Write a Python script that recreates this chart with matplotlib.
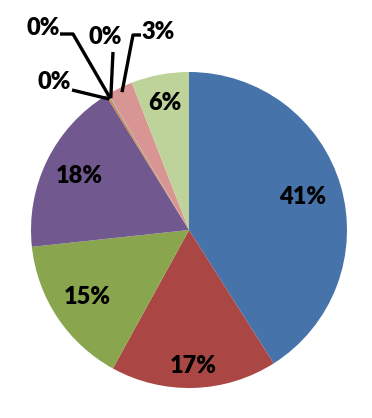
import numpy as np
import matplotlib
matplotlib.use("Agg")
import matplotlib.pyplot as plt

# slice shares in %, clockwise from 12 o'clock
shares = [41.0, 17.0, 15.3, 17.9, 0.2, 0.05, 0.05, 2.6, 5.9]
colors = ['#4673A9', '#AA4744', '#89A64E', '#71598F', '#DB843D',
          '#4198AF', '#93A9CF', '#D89593', '#BDD39A']
labels = [f"{round(v)}%" for v in shares]

# inside labels: radial distance of each label (None -> outside with leader)
inner_dist = [0.75, 0.86, 0.77, 0.77, None, None, None, None, 0.82]

# outside label positions in pixels (x, y from top-left) and leader elbow
outer_pos = {4: ((54, 82), None),
             5: ((43, 28), (73, 34)),
             6: ((105, 37), (113, 52)),
             7: ((158, 32), (133, 35))}
outer_start = {4: (72, 90), 5: (60, 34), 6: (113, 52), 7: (141, 35)}

W, H = 372, 418
CX, CY, R = 189, 230, 158


def px(p):
    return ((p[0] - CX) / R, (CY - p[1]) / R)


fig = plt.figure(figsize=(W / 100, H / 100), dpi=100)
ax = fig.add_axes([0, 0, 1, 1])
wedges, _ = ax.pie(shares, colors=colors, startangle=90, counterclock=False,
                   radius=1.0, wedgeprops=dict(linewidth=0))
ax.set_xlim(-CX / R, (W - CX) / R)
ax.set_ylim((CY - H) / R, CY / R)
ax.set_aspect('equal')
ax.axis('off')

font = dict(family=['Lato', 'DejaVu Sans'], fontweight='heavy', fontsize=17,
            color='black')

for i, w in enumerate(wedges):
    mid = np.deg2rad((w.theta1 + w.theta2) / 2)
    if inner_dist[i] is not None:
        d = inner_dist[i]
        ax.text(d * np.cos(mid), d * np.sin(mid), labels[i],
                ha='center', va='center', **font)
    else:
        txt, elbow = outer_pos[i]
        ax.text(*px(txt), labels[i], ha='center', va='center', **font)
        end = (0.97 * np.cos(mid), 0.97 * np.sin(mid))
        pts = [px(outer_start[i])]
        if elbow is not None:
            pts.append(px(elbow))
        pts.append(end)
        xs, ys = zip(*pts)
        ax.plot(xs, ys, color='black', lw=2.4, solid_capstyle='butt')

fig.savefig('out.png', dpi=100)
